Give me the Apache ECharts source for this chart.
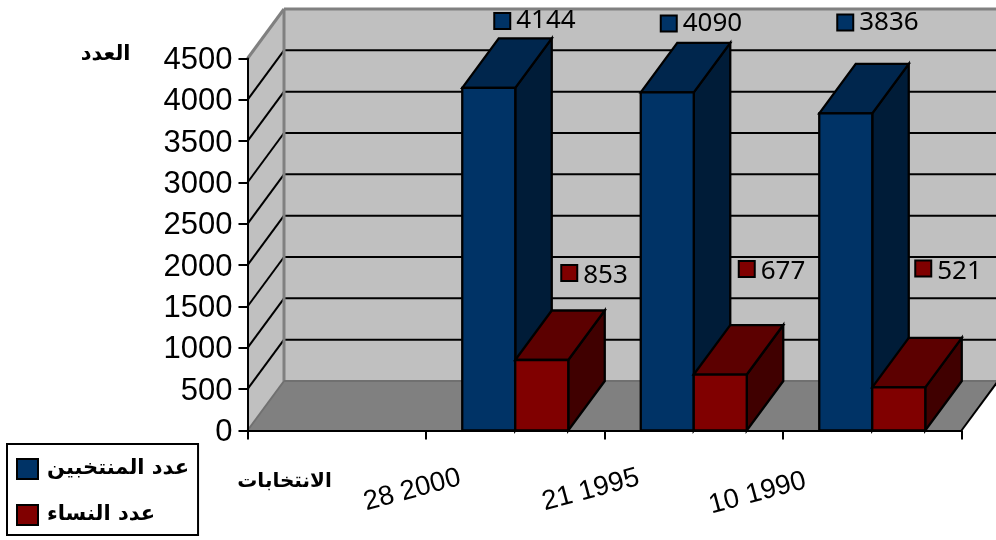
<!DOCTYPE html>
<html><head><meta charset="utf-8">
<script src="https://cdn.jsdelivr.net/npm/echarts@6/dist/echarts.min.js"></script>
<style>html,body{margin:0;padding:0;background:#fff}#c{width:996px;height:540px}</style>
</head><body><div id="c"></div>
<script>
const categories = ['', '28 2000', '21 1995', '10 1990'];
const electedLabel = 'عدد المنتخبين';
const womenLabel = 'عدد النساء';
const elected = [null, 4144, 4090, 3836];
const women = [null, 853, 677, 521];
const yTicks = [0, 500, 1000, 1500, 2000, 2500, 3000, 3500, 4000, 4500];
const yName = 'العدد';
const xName = 'الانتخابات';

// presentation only
const DX = 36.5, DY = -49.5, BAR = 53;
const keyOffset = {
  [electedLabel]: [[0,0],[-13,-67],[-25,-69],[-27,-91]],
  [womenLabel]:   [[0,0],[54,-87],[53,-105.5],[51,-119]]
};
const labelPad = [0, 57, 57, 69];
const S = {
  [electedLabel]: {front:'#003366', top:'#00264d', side:'#001c38', sign:-1, textDy:0},
  [womenLabel]:   {front:'#800000', top:'#5c0000', side:'#400000', sign:0, textDy:3}
};
const EDGE = {stroke:'#000', lineWidth:2.3, lineJoin:'miter'};
function poly(points, fill, extra){
  return {type:'polygon', shape:{points}, style:Object.assign({fill}, EDGE, extra||{})};
}
function line(x1,y1,x2,y2,stroke,w){
  return {type:'line', shape:{x1,y1,x2,y2}, style:{stroke,lineWidth:w,fill:null}};
}
function wallsRender(params, api){
  const c = params.coordSys;
  const L = c.x, R = c.x + c.width;
  const y0 = api.coord([0, 0])[1], yT = api.coord([0, 4500])[1];
  const ch = [];
  ch.push(poly([[L+DX,yT+DY],[R+DX,yT+DY],[R+DX,y0+DY],[L+DX,y0+DY]], '#c0c0c0', {stroke:'none',lineWidth:0}));
  ch.push(poly([[L,yT],[L+DX,yT+DY],[L+DX,y0+DY],[L,y0]], '#c0c0c0', {stroke:'none',lineWidth:0}));
  ch.push(poly([[L,y0],[L+DX,y0+DY],[R+DX,y0+DY],[R,y0]], '#808080', {stroke:'none',lineWidth:0}));
  yTicks.forEach(t => {
    if (t === 0 || t === 4500) return;
    const y = api.coord([0, t])[1];
    ch.push(line(L, y, L+DX, y+DY, '#000', 2));
    ch.push(line(L+DX, y+DY, R+DX, y+DY, '#000', 2));
  });
  ch.push(line(L, yT, L+DX, yT+DY, '#808080', 3));
  ch.push(line(L+DX, yT+DY, R+DX, yT+DY, '#808080', 3));
  ch.push(line(L+DX, yT+DY, L+DX, y0+DY, '#808080', 3));
  ch.push(line(L, y0, L+DX, y0+DY, '#707070', 2));
  ch.push(line(L+DX, y0+DY, R+DX, y0+DY, '#707070', 2));
  ch.push(line(R, y0, R+DX, y0+DY, '#000', 2));
  return {type:'group', children:ch};
}
function barRender(params, api){
  const v = api.value(1);
  if (isNaN(v)) return null;
  const s = S[params.seriesName];
  const base = api.coord([api.value(0), 0]);
  const top = api.coord([api.value(0), v]);
  const l = base[0] + s.sign*BAR, r = l + BAR, t = top[1], b = base[1];
  return {type:'group', children:[
    poly([[r,t],[r+DX,t+DY],[r+DX,b+DY],[r,b]], s.side),
    poly([[l,t],[l+DX,t+DY],[r+DX,t+DY],[r,t]], s.top),
    poly([[l,t],[r,t],[r,b],[l,b]], s.front)
  ]};
}
function labelRender(params, api){
  const v = api.value(1);
  if (isNaN(v)) return null;
  const s = S[params.seriesName];
  const i = api.value(0);
  const p = api.coord([i, v]);
  const o = keyOffset[params.seriesName][i];
  const x = p[0]+o[0], y = p[1]+o[1];
  return {type:'group', children:[
    {type:'rect', shape:{x:x-8,y:y-8,width:16,height:16}, style:{fill:s.front,stroke:'#000',lineWidth:2}},
    {type:'text', x:x+14, y:y+s.textDy, style:{text:String(v), fill:'#000', font:'26px "Noto Sans"', textAlign:'left', textVerticalAlign:'middle'}}
  ]};
}
const rows = a => a.map((v,i) => [i, v === null ? '-' : v]);
const chart = echarts.init(document.getElementById('c'), null, {renderer:'canvas'});
chart.setOption({
  animation:false,
  backgroundColor:'#fff',
  grid:{left:247.5, top:58.5, width:714, height:372, containLabel:false},
  legend:{
    orient:'vertical', left:7, top:444, padding:[14,9,9,9], itemGap:24,
    icon:'rect',
    itemWidth:21, itemHeight:20, borderColor:'#000', borderWidth:2, backgroundColor:'#fff',
    data:[electedLabel, womenLabel],
    itemStyle:{borderColor:'#000', borderWidth:2},
    textStyle:{fontFamily:'"DejaVu Sans"', fontWeight:'bold', fontSize:21, color:'#000', padding:[0,0,0,4]},
    selectedMode:false
  },
  xAxis:{
    type:'category', z:5,
    data:categories.map((c,i)=>({value:c, textStyle:{padding:[0,labelPad[i],0,0]}})),
    boundaryGap:true,
    name:xName, nameLocation:'start', nameGap:-37, nameMoveOverlap:false,
    nameTextStyle:{fontFamily:'"DejaVu Sans"', fontWeight:'bold', fontSize:20, color:'#000', align:'center', verticalAlign:'top', padding:[41,0,0,0]},
    axisLine:{show:true, lineStyle:{color:'#000', width:2}},
    axisTick:{show:true, length:9, lineStyle:{color:'#000', width:2}},
    axisLabel:{interval:0, rotate:15, margin:32, align:'right', verticalAlign:'middle', color:'#000', fontFamily:'"Liberation Sans"', fontSize:27.5, hideOverlap:false}
  },
  yAxis:{
    type:'value', min:0, max:4500, interval:500, z:5,
    name:yName, nameLocation:'end', nameGap:4, nameMoveOverlap:false,
    nameTextStyle:{fontFamily:'"DejaVu Sans"', fontWeight:'bold', fontSize:21, color:'#000', align:'right', verticalAlign:'middle', padding:[0,117,0,0]},
    axisLine:{show:true, lineStyle:{color:'#000', width:2}},
    axisTick:{show:true, length:9, lineStyle:{color:'#000', width:2}},
    splitLine:{show:false},
    axisLabel:{margin:15, color:'#000', fontFamily:'"Liberation Sans"', fontSize:31,
      formatter:v => '{a|' + v + '}',
      rich:{a:{color:'#000', fontFamily:'"Liberation Sans"', fontSize:31, padding:[4,0,0,0]}}}
  },
  series:[
    {type:'custom', name:'walls', z:1, silent:true, renderItem:wallsRender, data:[[0,0]], encode:{x:0,y:1}},
    {type:'custom', name:electedLabel, z:2, itemStyle:{color:'#003366'}, renderItem:barRender, data:rows(elected), encode:{x:0,y:1}},
    {type:'custom', name:womenLabel, z:3, itemStyle:{color:'#800000'}, renderItem:barRender, data:rows(women), encode:{x:0,y:1}},
    {type:'custom', name:electedLabel, z:6, itemStyle:{color:'#003366'}, renderItem:labelRender, data:rows(elected), encode:{x:0,y:1}},
    {type:'custom', name:womenLabel, z:6, itemStyle:{color:'#800000'}, renderItem:labelRender, data:rows(women), encode:{x:0,y:1}}
  ]
});
</script></body></html>
